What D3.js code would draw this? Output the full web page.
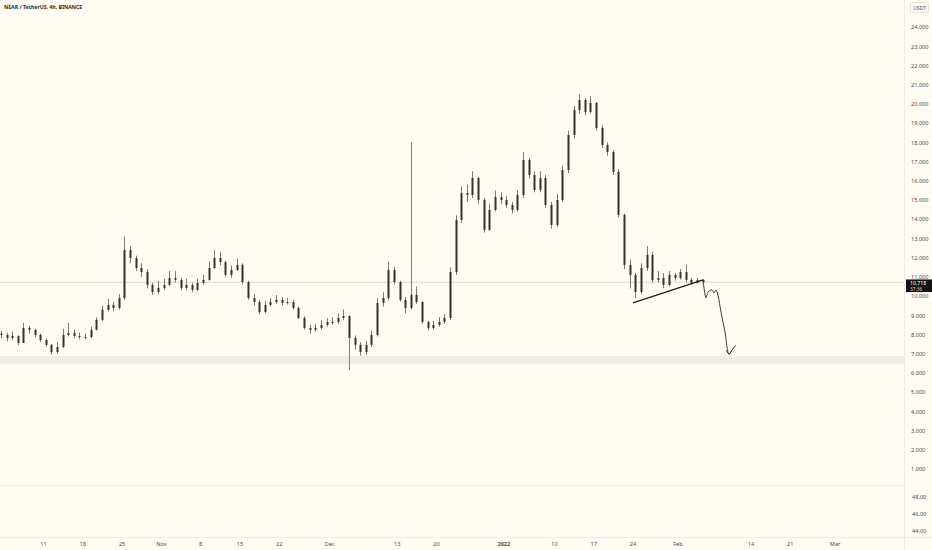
<!DOCTYPE html>
<html><head><meta charset="utf-8">
<script src="https://cdn.jsdelivr.net/npm/d3@7"></script>
<style>
html,body{margin:0;padding:0;background:#fffdf3;}
svg{display:block;font-family:"Noto Sans","DejaVu Sans",sans-serif;}
</style></head>
<body><svg id="c" width="932" height="550"></svg>
<script>
// ---------- DATA ----------
const title = "NEAR / TetherUS, 4h, BINANCE";
const firstDay = "2021-10-03";           // first candle date (one candle per day)
const closes = [7.97,7.82,7.92,7.56,8.34,8.24,7.98,7.71,7.46,7.09,7.35,7.98,8.08,7.92,7.87,7.87,8.24,8.76,9.28,9.54,9.38,9.90,12.40,11.98,11.46,11.25,10.58,10.21,10.42,10.58,10.94,10.84,10.42,10.58,10.32,10.68,10.84,11.46,11.98,11.77,11.10,11.36,11.62,10.73,9.90,9.69,9.17,9.54,9.69,9.80,9.64,9.69,9.38,8.86,8.34,8.24,8.34,8.50,8.65,8.65,8.86,8.96,7.82,7.46,7.09,7.46,7.98,9.64,9.90,11.36,10.73,9.80,9.38,10.06,9.69,8.65,8.34,8.50,8.65,8.86,11.25,13.96,15.36,15.26,16.14,15.00,13.44,14.48,15.15,15.00,14.74,14.48,15.26,17.08,16.30,15.52,16.14,14.74,13.70,15.00,16.56,18.38,19.68,20.20,19.58,20.05,18.75,17.86,17.50,16.46,14.22,11.62,11.10,10.21,11.46,12.14,10.84,10.94,10.58,11.10,10.94,11.25,10.84,10.68,10.84,10.72];
const highs = [8.20,8.10,8.15,7.95,8.60,8.45,8.30,8.05,7.80,7.50,7.60,8.30,8.60,8.25,8.10,8.05,8.40,8.90,9.50,9.85,9.70,10.10,13.10,12.60,12.10,11.70,11.40,10.70,10.80,10.90,11.30,11.30,10.95,10.90,10.70,10.90,11.10,11.80,12.40,12.30,11.85,11.60,11.95,11.70,10.80,10.10,9.80,9.75,9.90,10.05,9.95,9.90,9.80,9.45,8.95,8.50,8.55,8.75,8.85,8.90,9.10,9.30,9.00,7.95,7.60,7.65,8.20,9.90,10.20,11.80,11.50,10.80,9.95,18.00,10.50,9.75,8.70,8.70,8.90,9.05,11.50,14.20,15.70,15.80,16.50,16.20,15.10,14.80,15.50,15.40,15.20,14.90,15.50,17.50,17.20,16.50,16.50,16.30,14.90,15.30,16.80,18.60,19.90,20.50,20.30,20.40,20.10,18.90,18.00,17.60,16.60,14.30,11.90,11.20,11.70,12.60,12.30,11.30,11.20,11.30,11.20,11.40,11.65,10.95,10.95,10.88];
const lows = [7.80,7.65,7.70,7.45,7.55,8.05,7.85,7.60,7.35,6.95,7.00,7.30,7.90,7.80,7.75,7.75,7.80,8.20,8.70,9.20,9.20,9.30,9.80,11.70,11.30,11.00,10.40,10.05,10.10,10.30,10.50,10.70,10.30,10.30,10.20,10.25,10.60,10.80,11.40,11.60,11.00,10.95,11.30,10.60,9.80,9.50,9.05,9.10,9.45,9.60,9.50,9.55,9.30,8.80,8.25,8.05,8.15,8.25,8.40,8.50,8.55,8.75,6.15,7.20,6.90,6.95,7.35,7.90,9.45,9.80,10.60,9.70,9.10,9.30,9.60,8.55,8.20,8.25,8.40,8.55,8.75,11.10,13.80,14.90,15.10,14.80,13.30,13.40,14.40,14.80,14.60,14.30,14.40,15.10,16.10,15.40,15.40,14.60,13.50,13.60,14.90,16.40,18.20,19.50,19.40,19.50,18.60,17.70,17.30,16.30,14.10,11.40,10.40,9.90,10.10,11.30,10.70,10.70,10.40,10.50,10.80,10.85,10.70,10.60,10.65,10.68];
const firstOpen = 8.05;

const lastPrice = 10.718;
const lastPriceText = "10.718";
const countdownText = "37:36";
const supportZone = [6.47, 6.88];

const trendDates = ["2022-01-24T02:00","2022-02-05T13:30"];
const trendPrices = [9.64, 10.84];

const projDates = ["2022-02-05T13:30","2022-02-06T02:30","2022-02-06T11:00","2022-02-07T04:00","2022-02-07T12:30","2022-02-07T21:00","2022-02-08T06:00","2022-02-08T18:30","2022-02-09T11:30","2022-02-10T04:30","2022-02-10T17:30","2022-02-11T10:30"];
const projPrices = [10.84, 9.90, 10.21, 10.32, 10.16, 10.32, 10.00, 9.17, 8.13, 6.99, 7.19, 7.45];

const yTicks = [24,23,22,21,20,19,18,17,16,15,14,13,12,11,10,9,8,7,6,5,4,3,2,1];
const lowerTicks = [48, 46, 44];
const xTickDates = ["2021-10-11","2021-10-18","2021-10-25","2021-11-01","2021-11-08","2021-11-15","2021-11-22","2021-12-01","2021-12-13","2021-12-20","2022-01-01","2022-01-10","2022-01-17","2022-01-24","2022-02-01","2022-02-14","2022-02-21","2022-03-01"];
const xTickLabels = ["11","18","25","Nov","8","15","22","Dec","13","20","2022","10","17","24","Feb","14","21","Mar"];

// ---------- CHART ----------
const W = 932, H = 550, plotRight = 904, mainBottom = 485, lowerBottom = 537;
const svg = d3.select("#c");
const parse = d3.isoParse;
const fs = 5.6;

const x = d3.scaleTime().domain([parse("2021-10-11T00:00"), parse("2022-03-01T00:00")]).range([43, 834.6]);
const y = d3.scaleLinear().domain([1, 24]).range([469, 27]);
const y2 = d3.scaleLinear().domain([44, 48]).range([531, 497]);

svg.append("rect").attr("width", W).attr("height", H).attr("fill", "#fffdf3");

const clip = svg.append("defs").append("clipPath").attr("id", "pc");
clip.append("rect").attr("x", 0).attr("y", 0).attr("width", plotRight).attr("height", mainBottom);
const plot = svg.append("g").attr("clip-path", "url(#pc)");

// support zone
plot.append("rect")
  .attr("x", 0).attr("width", plotRight)
  .attr("y", y(supportZone[1])).attr("height", y(supportZone[0]) - y(supportZone[1]))
  .attr("fill", "#efeee6");

// last price line
plot.append("line").attr("x1", 0).attr("x2", plotRight)
  .attr("y1", y(lastPrice)).attr("y2", y(lastPrice))
  .attr("stroke", "#d9d8d0").attr("stroke-width", 1);

// candles
const day0 = parse(firstDay + "T12:00");
const candles = closes.map((c, i) => ({
  t: d3.timeDay.offset(day0, i),
  o: i === 0 ? firstOpen : closes[i - 1],
  h: highs[i], l: lows[i], c: c
}));
const bw = 2;
const cg = plot.append("g");
cg.selectAll("line.w").data(candles).join("line").attr("class", "w")
  .attr("x1", d => Math.round(x(d.t)) + 0.5).attr("x2", d => Math.round(x(d.t)) + 0.5)
  .attr("y1", d => y(Math.max(d.h, d.o, d.c))).attr("y2", d => y(Math.min(d.l, d.o, d.c)))
  .attr("stroke", "#7c7c78").attr("stroke-width", 1);
cg.selectAll("rect.b").data(candles).join("rect").attr("class", "b")
  .attr("x", d => Math.round(x(d.t)) + 0.5 - bw / 2)
  .attr("width", bw)
  .attr("y", d => y(Math.max(d.o, d.c)))
  .attr("height", d => Math.max(1, Math.abs(y(d.o) - y(d.c))))
  .attr("fill", "#333331");

// trend line
plot.append("line")
  .attr("x1", x(parse(trendDates[0]))).attr("y1", y(trendPrices[0]))
  .attr("x2", x(parse(trendDates[1]))).attr("y2", y(trendPrices[1]))
  .attr("stroke", "#1e1e1e").attr("stroke-width", 1.3);

// projection path
const proj = projDates.map((d, i) => [x(parse(d)), y(projPrices[i])]);
plot.append("path").attr("d", d3.line().curve(d3.curveCatmullRom)(proj))
  .attr("fill", "none").attr("stroke", "#3c3c3c").attr("stroke-width", 1);
// arrow head at lowest point
const tipI = projPrices.indexOf(d3.min(projPrices));
const tip = proj[tipI];
plot.append("path")
  .attr("d", `M${tip[0]-3},${tip[1]-3.5}L${tip[0]},${tip[1]+0.5}L${tip[0]+3},${tip[1]-3}`)
  .attr("fill", "none").attr("stroke", "#3c3c3c").attr("stroke-width", 1);

// pane borders
svg.append("line").attr("x1", 0).attr("x2", plotRight).attr("y1", mainBottom + 0.5).attr("y2", mainBottom + 0.5)
  .attr("stroke", "#efeee6").attr("stroke-width", 1.5);
svg.append("line").attr("x1", 0).attr("x2", W).attr("y1", lowerBottom + 0.5).attr("y2", lowerBottom + 0.5)
  .attr("stroke", "#efeee6").attr("stroke-width", 1);
svg.append("line").attr("x1", plotRight + 0.5).attr("x2", plotRight + 0.5).attr("y1", 0).attr("y2", H)
  .attr("stroke", "#efeee6").attr("stroke-width", 1);

// price axis
const yAxis = svg.append("g").attr("transform", `translate(${plotRight},0)`)
  .call(d3.axisRight(y).tickValues(yTicks).tickFormat(d3.format(".3f")).tickSize(0).tickPadding(7));
yAxis.select(".domain").remove();
yAxis.selectAll("text").attr("font-size", fs).attr("fill", "#4a4a4a").attr("font-family", "Noto Sans, sans-serif");

const y2Axis = svg.append("g").attr("transform", `translate(${plotRight},0)`)
  .call(d3.axisRight(y2).tickValues(lowerTicks).tickFormat(d3.format(".2f")).tickSize(0).tickPadding(8));
y2Axis.select(".domain").remove();
y2Axis.selectAll("text").attr("font-size", fs).attr("fill", "#4a4a4a").attr("font-family", "Noto Sans, sans-serif");

// time axis
const xAxis = svg.append("g").attr("transform", `translate(0,${lowerBottom})`)
  .call(d3.axisBottom(x).tickValues(xTickDates.map(d => parse(d)))
    .tickFormat((d, i) => xTickLabels[i]).tickSize(0).tickPadding(5));
xAxis.select(".domain").remove();
xAxis.selectAll("text").attr("font-size", fs).attr("fill", "#4a4a4a").attr("font-family", "Noto Sans, sans-serif")
  .attr("font-weight", (d, i) => xTickLabels[i] === "2022" ? "bold" : "normal");

// USDT label
svg.append("rect").attr("x", 910.5).attr("y", 2.5).attr("width", 18).attr("height", 10)
  .attr("fill", "#fffdf3").attr("stroke", "#e6e5dd").attr("rx", 1.5);
svg.append("text").attr("x", 919.5).attr("y", 9.8).attr("text-anchor", "middle")
  .attr("font-size", 5.2).attr("fill", "#4a4a4a").text("USDT");

// last price tag
const ly = y(lastPrice);
svg.append("rect").attr("x", 906).attr("y", ly - 2.8).attr("width", 26).attr("height", 12.6).attr("fill", "#131313");
svg.append("text").attr("x", 910).attr("y", ly + 3.2).attr("font-size", 5.2).attr("fill", "#ffffff").text(lastPriceText);
svg.append("text").attr("x", 910).attr("y", ly + 8.6).attr("font-size", 4.8).attr("fill", "#d0d0d0").text(countdownText);

// title
svg.append("text").attr("x", 4).attr("y", 9).attr("font-size", 5.2).attr("font-weight", "bold")
  .attr("fill", "#2a2a2a").text(title);
</script>
</body></html>
